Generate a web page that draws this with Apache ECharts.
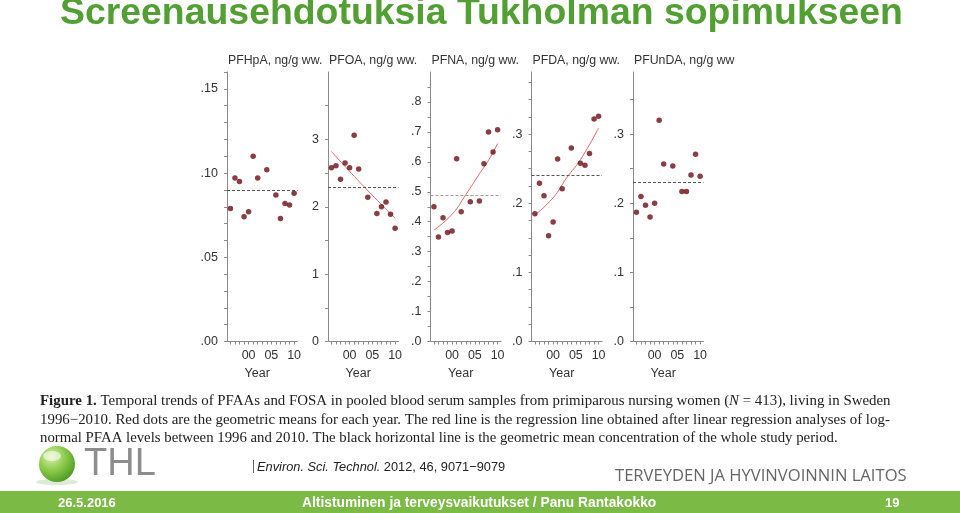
<!DOCTYPE html>
<html>
<head>
<meta charset="utf-8">
<script src="https://cdn.jsdelivr.net/npm/echarts@6/dist/echarts.min.js"></script>
<style>
html,body{margin:0;padding:0;background:#fff;}
#chart{width:960px;height:513px;}
</style>
</head>
<body>
<div id="chart"></div>
<script>
// ---- data ----
const years = [1996, 1997, 1998, 1999, 2000, 2001, 2002, 2004, 2006, 2007, 2008, 2009, 2010];
const panelTitles = ['PFHpA, ng/g ww.', 'PFOA, ng/g ww.', 'PFNA, ng/g ww.', 'PFDA, ng/g ww.', 'PFUnDA, ng/g ww'];
const pfhpa  = [0.079, 0.097, 0.095, 0.074, 0.077, 0.110, 0.097, 0.102, 0.087, 0.073, 0.082, 0.081, 0.088];
const pfoa   = [2.58, 2.61, 2.41, 2.65, 2.58, 3.06, 2.56, 2.14, 1.90, 2.00, 2.07, 1.89, 1.68];
const pfna   = [0.450, 0.349, 0.413, 0.364, 0.369, 0.610, 0.433, 0.467, 0.469, 0.594, 0.700, 0.633, 0.707];
const pfda   = [0.185, 0.229, 0.211, 0.153, 0.173, 0.264, 0.221, 0.280, 0.258, 0.255, 0.272, 0.322, 0.326];
const pfunda = [0.187, 0.210, 0.197, 0.180, 0.200, 0.320, 0.257, 0.254, 0.217, 0.217, 0.241, 0.271, 0.239];
const geoMeans = [0.0874, 2.29, 0.490, 0.236, 0.228];
// regression lines (read at a few years)
const regPfoaYears = [1996, 2003, 2010];
const regPfoa      = [2.82, 2.31, 1.83];
const regPfnaYears = [1996, 2000, 2003, 2006, 2008, 2010];
const regPfna      = [0.372, 0.425, 0.490, 0.560, 0.605, 0.661];
const regPfdaYears = [1996, 2000, 2003, 2006, 2010];
const regPfda      = [0.183, 0.208, 0.237, 0.263, 0.309];
// axis ticks / labels
const xLabelYears = [2000, 2005, 2010];
const xTickYears  = [1996, 1997, 1998, 1999, 2000, 2001, 2002, 2003, 2004, 2005, 2006, 2007, 2008, 2009, 2010];
const yMax = [0.16, 4, 0.9, 0.39, 0.39];
const yLabels = [
  [0, 0.05, 0.10, 0.15],
  [0, 1, 2, 3],
  [0, 0.1, 0.2, 0.3, 0.4, 0.5, 0.6, 0.7, 0.8],
  [0, 0.1, 0.2, 0.3],
  [0, 0.1, 0.2, 0.3]
];
const yTicks = [
  [0, 0.01, 0.02, 0.03, 0.04, 0.05, 0.06, 0.07, 0.08, 0.09, 0.10, 0.11, 0.12, 0.13, 0.14, 0.15, 0.16],
  [0, 0.5, 1, 1.5, 2, 2.5, 3, 3.5],
  [0, 0.05, 0.1, 0.15, 0.2, 0.25, 0.3, 0.35, 0.4, 0.45, 0.5, 0.55, 0.6, 0.65, 0.7, 0.75, 0.8, 0.85],
  [0, 0.025, 0.05, 0.075, 0.1, 0.125, 0.15, 0.175, 0.2, 0.225, 0.25, 0.275, 0.3, 0.325, 0.35, 0.375],
  [0, 0.05, 0.1, 0.15, 0.2, 0.25, 0.3, 0.35]
];
const yDecimals = [2, 0, 1, 1, 1];

// ---- layout ----
const gridLefts = [227, 328, 430.5, 531.5, 633];
const gridTop = 72, gridH = 269.5, gridW = 70.5;
const values = [pfhpa, pfoa, pfna, pfda, pfunda];
const regs = [null, [regPfoaYears, regPfoa], [regPfnaYears, regPfna], [regPfdaYears, regPfda], null];
const axisColor = '#8a8a8a';
const txtColor = '#333';
const sans = 'Liberation Sans, Arial, sans-serif';
const serif = 'Liberation Serif, Times New Roman, serif';

const grids = [], xAxes = [], yAxes = [], series = [], titles = [];
for (let i = 0; i < 5; i++) {
  grids.push({left: gridLefts[i], top: gridTop, width: gridW, height: gridH, containLabel: false});
  xAxes.push({
    type: 'value', gridIndex: i, min: 1995.25, max: 2010.75,
    name: 'Year', nameLocation: 'middle', nameGap: 23,
    nameTextStyle: {color: txtColor, fontSize: 12.5, fontFamily: sans, padding: [0, 10, 0, 0]},
    axisLine: {show: true, lineStyle: {color: axisColor, width: 1}},
    axisTick: {show: true, length: 3, customValues: xTickYears, lineStyle: {color: axisColor}},
    axisLabel: {customValues: xLabelYears, margin: 8, color: txtColor, fontSize: 12.5, fontFamily: sans,
      formatter: v => String(Math.round(v)).slice(2)},
    splitLine: {show: false}
  });
  const dec = yDecimals[i];
  yAxes.push({
    type: 'value', gridIndex: i, min: 0, max: yMax[i],
    axisLine: {show: true, lineStyle: {color: axisColor, width: 1}},
    axisTick: {show: true, length: 3, customValues: yTicks[i], lineStyle: {color: axisColor}},
    axisLabel: {customValues: yLabels[i], margin: 9, color: txtColor, fontSize: 12.5, fontFamily: sans,
      formatter: v => dec === 0 ? String(Math.round(v)) : v.toFixed(dec).replace(/^0/, '')},
    splitLine: {show: false}
  });
  titles.push({
    text: panelTitles[i], left: gridLefts[i] + 1, top: 55, padding: 0,
    textStyle: {fontSize: 12.3, fontWeight: 'normal', color: txtColor, fontFamily: sans}
  });
  series.push({
    type: 'scatter', xAxisIndex: i, yAxisIndex: i,
    data: years.map((y, k) => [y, values[i][k]]),
    symbolSize: 5.5, itemStyle: {color: '#6e0c14'}, z: 5,
    markLine: {
      silent: true, symbol: 'none', label: {show: false},
      lineStyle: {color: i === 2 ? '#9a9a9a' : '#555', type: [3, 2], width: 1},
      data: [{yAxis: geoMeans[i]}]
    }
  });
  if (regs[i]) {
    series.push({
      type: 'line', xAxisIndex: i, yAxisIndex: i, smooth: true, symbol: 'none',
      data: regs[i][0].map((y, k) => [y, regs[i][1][k]]),
      lineStyle: {color: '#e2686a', width: 1}, z: 4
    });
  }
}

const W = 960;
const graphic = [
  // slide title
  {type: 'text', x: 60, y: 14, style: {text: 'Screenausehdotuksia Tukholman sopimukseen',
    fontSize: 37.4, fontWeight: 'bold', fontFamily: sans, fill: '#52a034', textVerticalAlign: 'middle'}},
  // caption
  {type: 'text', x: 40, y: 401, style: {
    text: '{b|Figure 1.} Temporal trends of PFAAs and FOSA in pooled blood serum samples from primiparous nursing women ({i|N} = 413), living in Sweden',
    fontSize: 14.9, fontFamily: serif, fill: '#222', textVerticalAlign: 'middle',
    rich: {b: {fontWeight: 'bold', fontSize: 14.9, fontFamily: serif, fill: '#222'},
           i: {fontStyle: 'italic', fontSize: 14.9, fontFamily: serif, fill: '#222'}}}},
  {type: 'text', x: 40, y: 420, style: {
    text: '1996\u22122010. Red dots are the geometric means for each year. The red line is the regression line obtained after linear regression analyses of log-',
    fontSize: 14.9, fontFamily: serif, fill: '#222', textVerticalAlign: 'middle'}},
  {type: 'text', x: 40, y: 438, style: {
    text: 'normal PFAA levels between 1996 and 2010. The black horizontal line is the geometric mean concentration of the whole study period.',
    fontSize: 14.8, fontFamily: serif, fill: '#222', textVerticalAlign: 'middle'}},
  // THL logo
  {type: 'ellipse', shape: {cx: 57, cy: 482, rx: 21, ry: 3}, style: {fill: 'rgba(120,170,90,0.25)'}},
  {type: 'circle', shape: {cx: 57, cy: 464, r: 18}, style: {
    fill: new echarts.graphic.RadialGradient(0.35, 0.3, 0.85, [
      {offset: 0, color: '#d8f0b0'}, {offset: 0.45, color: '#8cca4a'}, {offset: 1, color: '#3f8c1c'}])}},
  {type: 'ellipse', shape: {cx: 52, cy: 456, rx: 9, ry: 5}, style: {fill: 'rgba(255,255,255,0.55)'}},
  {type: 'text', x: 84, y: 465, style: {text: 'THL', fontSize: 38, fontFamily: sans, fill: '#8e8e8e',
    textVerticalAlign: 'middle'}},
  // journal ref
  {type: 'rect', shape: {x: 253, y: 460, width: 1, height: 13}, style: {fill: '#666'}},
  {type: 'text', x: 257, y: 467, style: {
    text: '{i|Environ. Sci. Technol.} 2012, 46, 9071\u22129079',
    fontSize: 12.8, fontFamily: sans, fill: '#222', textVerticalAlign: 'middle',
    rich: {i: {fontStyle: 'italic', fontSize: 12.8, fontFamily: sans, fill: '#222'}}}},
  // institute name
  {type: 'text', x: 615, y: 476, style: {text: 'TERVEYDEN JA HYVINVOINNIN LAITOS',
    fontSize: 16.6, fontFamily: 'Open Sans, sans-serif', fill: '#666', textVerticalAlign: 'middle'}},
  // footer bar
  {type: 'rect', shape: {x: 0, y: 491, width: W, height: 22}, style: {fill: '#7bba45'}},
  {type: 'text', x: 58, y: 503, style: {text: '26.5.2016', fontSize: 13, fontWeight: 'bold', fontFamily: sans,
    fill: '#fff', textVerticalAlign: 'middle'}},
  {type: 'text', x: 302, y: 503, style: {text: 'Altistuminen ja terveysvaikutukset / Panu Rantakokko', fontSize: 13.8,
    fontWeight: 'bold', fontFamily: sans, fill: '#fff', textVerticalAlign: 'middle'}},
  {type: 'text', x: 885, y: 503, style: {text: '19', fontSize: 13, fontWeight: 'bold', fontFamily: sans,
    fill: '#fff', textVerticalAlign: 'middle'}}
];

const chart = echarts.init(document.getElementById('chart'), null, {renderer: 'canvas'});
chart.setOption({
  animation: false,
  backgroundColor: '#fff',
  title: titles,
  grid: grids,
  xAxis: xAxes,
  yAxis: yAxes,
  series: series,
  graphic: graphic
});
</script>
</body>
</html>
